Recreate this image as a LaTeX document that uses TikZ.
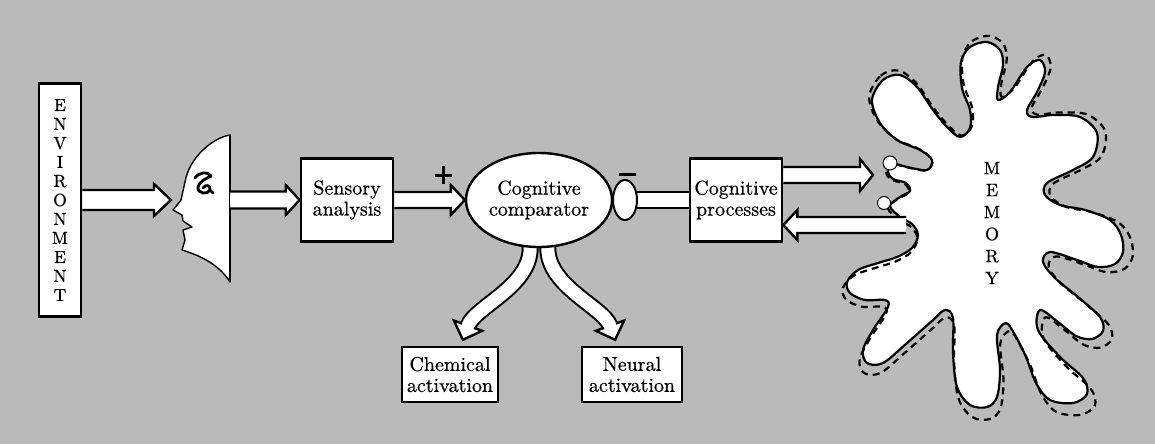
\documentclass[tikz,border=0pt]{standalone}
\usepackage{fontspec}
\setmainfont{lmroman10-regular.otf}[FakeBold=0.6]
\usetikzlibrary{calc,shapes.geometric}
\pgfdeclarelayer{back}
\pgfdeclarelayer{mid}
\pgfsetlayers{back,mid,main}
\definecolor{paper}{RGB}{186,186,186}

\tikzset{
  box/.style={draw, line width=2.6pt, fill=white, inner sep=0pt, align=center,
    font=\fontsize{20}{21}\selectfont},
  barrow/.style={draw, fill=white, line width=2.4pt, line join=miter},
  blob/.style={line width=2.2pt, line join=round},
  nub/.style={circle, draw, fill=white, line width=1pt, minimum size=14pt, inner sep=0pt},
  signline/.style={line width=3pt},
}

% hollow straight arrow: tail, tip, shaft half width, head half width, signed head length
\newcommand\blockarrow[5]{%
  \filldraw[barrow] ($(#1)+(0,-#3)$) -- ($(#2)+(#5,-#3)$) -- ($(#2)+(#5,-#4)$) -- (#2)
    -- ($(#2)+(#5,#4)$) -- ($(#2)+(#5,#3)$) -- ($(#1)+(0,#3)$);}

% hollow head of a bent arrow: base point, direction
\newcommand\benthead[2]{%
  \filldraw[barrow, shift={(#1)}, rotate=#2] (-1,-7.5) -- (0,-7.5) -- (0,-15) -- (15,0)
    -- (0,15) -- (0,7.5) -- (-1,7.5);}

% outline of the memory cloud
\newcommand\memblob[1]{%
  \path[#1] plot[smooth cycle, tension=0.55] coordinates {
    (872,100) (883,80) (900,75) (917,87) (933,110) (947,127) (960,137)
    (970,128) (970,110) (962,88) (961,62) (970,47) (987,42) (1000,50) (1003,65) (998,87) (998,100)
    (1010,92) (1027,67) (1040,60) (1045,72) (1037,92) (1027,110) (1032,117)
    (1053,115) (1080,117) (1097,133) (1093,157) (1073,170) (1047,183) (1045,195)
    (1060,205) (1085,210) (1110,220) (1121,235) (1123,252) (1115,264) (1098,267) (1077,260) (1050,252) (1043,262)
    (1055,278) (1078,297) (1100,317) (1103,331) (1092,339) (1076,336) (1058,322) (1040,310)
    (1038,330) (1060,357) (1083,378) (1087,394) (1073,403) (1050,400) (1036,383) (1026,357) (1015,335)
    (1006,323) (997,335) (1000,370) (997,397) (987,407) (970,405) (957,387) (953,353) (953,318) (945,310)
    (933,320) (907,343) (883,363) (867,363) (863,350) (873,330) (888,307) (885,300)
    (865,300) (850,293) (847,282) (858,270) (878,263) (897,257) (912,248) (918,235) (912,224) (900,217) (890,206)
    (900,197) (910,191) (906,183) (893,179) (888,172) (890,163) (907,167) (927,170) (932,160) (920,150) (897,140) (880,123)
  };}

\begin{document}
\begin{tikzpicture}[x=1pt,y=-1pt]
\useasboundingbox (0,0) rectangle (1155,444);
\begin{pgfonlayer}{back}
  \fill[paper] (0,0) rectangle (1155,444);
\end{pgfonlayer}

% --- the observer's head ---
\filldraw[fill=white, line width=1.4pt, line join=round]
  (230,135) .. controls (212,138) and (189,158) .. (185,182) -- (181,200) -- (173,210)
  -- (182,215) -- (183,221) -- (192,227) -- (183,230) -- (185,240) -- (182,250)
  .. controls (198,255) and (218,263) .. (230,282) -- cycle;
\draw[line width=2.2pt] (230,135) -- (230,282);
\draw[line width=2.8pt, line cap=round, line join=round]
  (195,178) .. controls (199,172) and (208,171) .. (211,176)
  .. controls (205,179) and (199,182) .. (198,187)
  .. controls (197,194) and (208,195) .. (210,190)
  .. controls (211,185) and (205,184) .. (203,188)
  (210,190) -- (213,193);
\coordinate (nose) at (171,200);
\coordinate (faceback) at (230,200);

% --- blocks ---
\node[box, minimum width=42pt, minimum height=233pt, font=\fontsize{17.5}{19}\selectfont]
  (env) at (60,200) {E\\N\\V\\I\\R\\O\\N\\M\\E\\N\\T};
\node[box, minimum width=92pt, minimum height=83pt] (sens) at (347,200) {Sensory\\analysis};
\node[box, ellipse, line width=2.4pt, minimum width=146pt, minimum height=94pt] (comp) at (539,200) {Cognitive\\comparator};
\node[box, ellipse, line width=2pt, minimum width=24pt, minimum height=40pt] (knob) at (625,200) {};
\node[box, minimum width=92pt, minimum height=83pt] (cog) at (736,200) {Cognitive\\processes};
\node[box, minimum width=96pt, minimum height=55pt] (chem) at (450,374.5) {Chemical\\activation};
\node[box, minimum width=100pt, minimum height=55pt] (neur) at (632,374.5) {Neural\\activation};

% sign marks at the comparator inputs
\draw[signline] (435,175) -- (452,175) (443.5,166) -- (443.5,184);
\draw[signline] (619,174) -- (636,174);

% --- link from the comparator to the cognitive processes ---
\begin{pgfonlayer}{mid}
  \filldraw[fill=white, line width=2.2pt] ($(cog.west)+(0,-8)$) -- ($(knob.center)+(0,-8)$)
    -- ($(knob.center)+(0,8)$) -- ($(cog.west)+(0,8)$);
\end{pgfonlayer}

% --- straight hollow arrows ---
\blockarrow{env.east}{nose}{10}{16}{-17}
\blockarrow{faceback}{sens.west}{8.5}{15}{-14}
\blockarrow{sens.east}{comp.west}{8}{15}{-14}

% --- bent arrows out of the comparator ---
\coordinate (lstart) at ($(comp.south)+(-9,-4)$);
\coordinate (rstart) at ($(comp.south)+(9,-4)$);
\coordinate (lend) at ($(chem.north)+(18,-20)$);
\coordinate (rend) at ($(neur.north)+(-22,-20)$);
\begin{pgfonlayer}{mid}
  \draw[line width=17pt] (lstart) .. controls (534,285) and (475.5,306) .. (lend);
  \draw[line width=13pt, white] (lstart) .. controls (534,285) and (475.5,306) .. (lend);
  \draw[line width=17pt] (rstart) .. controls (544,285) and (602.5,306) .. (rend);
  \draw[line width=13pt, white] (rstart) .. controls (544,285) and (602.5,306) .. (rend);
\end{pgfonlayer}
\benthead{lend}{250}
\benthead{rend}{-70}

% --- memory ---
\memblob{blob, draw, fill=white}
\begin{scope}[shift={(993,228)}, scale=1.05, shift={(-990,-225)}]
  \memblob{blob, draw, dash pattern=on 7pt off 5pt, line width=2.2pt}
\end{scope}
\node[font=\fontsize{18}{22}\selectfont, align=center, inner sep=0pt] (memtxt) at (992,223) {M\\E\\M\\O\\R\\Y};

\coordinate (memin) at (873,175);
\coordinate (memout) at (906,225);
\coordinate (cogtop) at (cog.east |- memin);
\coordinate (cogbot) at (cog.east |- memout);
\blockarrow{cogtop}{memin}{8}{16}{-13}
\blockarrow{memout}{cogbot}{8}{15}{14}
\node[nub] (nub1) at (890,163) {};
\node[nub, minimum size=13pt] (nub2) at (884,203) {};
\end{tikzpicture}
\end{document}
